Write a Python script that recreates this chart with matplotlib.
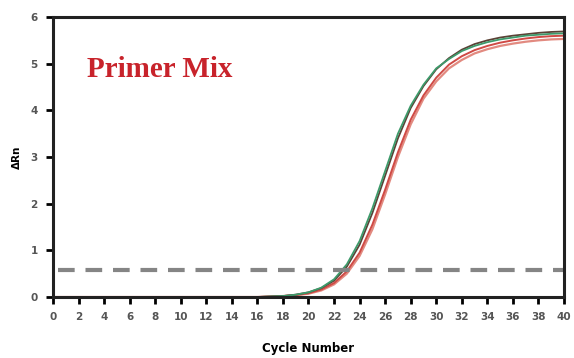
import matplotlib.pyplot as plt

# ciclos e curvas
ciclos = list(range(0, 41))

verde = [0, 0, 0, 0, 0, 0, 0, 0, 0, 0, 0, 0, 0, 0, 0, 0,
         0.0, 0.01, 0.02, 0.05, 0.1, 0.2, 0.38, 0.7, 1.2, 1.9,
         2.7, 3.5, 4.1, 4.55, 4.9, 5.1, 5.27, 5.38, 5.46, 5.52,
         5.56, 5.6, 5.62, 5.64, 5.65]

escuro = [0, 0, 0, 0, 0, 0, 0, 0, 0, 0, 0, 0, 0, 0, 0, 0,
          0.0, 0.01, 0.02, 0.05, 0.1, 0.19, 0.35, 0.65, 1.12, 1.8,
          2.6, 3.4, 4.05, 4.52, 4.88, 5.12, 5.3, 5.42, 5.5, 5.56,
          5.6, 5.63, 5.66, 5.68, 5.69]

vermelho1 = [0, 0, 0, 0, 0, 0, 0, 0, 0, 0, 0, 0, 0, 0, 0, 0,
             0.0, 0.01, 0.02, 0.04, 0.08, 0.16, 0.3, 0.55, 0.95, 1.55,
             2.3, 3.1, 3.8, 4.32, 4.7, 4.98, 5.16, 5.29, 5.38, 5.45,
             5.5, 5.54, 5.57, 5.59, 5.6]

vermelho2 = [0, 0, 0, 0, 0, 0, 0, 0, 0, 0, 0, 0, 0, 0, 0, 0,
             0.0, 0.01, 0.02, 0.04, 0.07, 0.14, 0.27, 0.5, 0.88, 1.45,
             2.2, 3.0, 3.7, 4.25, 4.62, 4.9, 5.08, 5.22, 5.31, 5.38,
             5.43, 5.47, 5.5, 5.52, 5.53]

limiar = 0.57

xticks = list(range(0, 41, 2))
yticks = [0, 1, 2, 3, 4, 5, 6]

fig = plt.figure(figsize=(5.74, 3.58), dpi=100)
ax = fig.add_axes([0.0923, 0.1704, 0.8903, 0.7821])

ax.plot(ciclos, vermelho2, color="#e28a80", lw=1.6)
ax.plot(ciclos, vermelho1, color="#cf4a45", lw=1.4)
ax.plot(ciclos, escuro, color="#5b4236", lw=1.3)
ax.plot(ciclos, verde, color="#3d9a6b", lw=1.3)

ax.axhline(limiar, xmin=0.01, xmax=1, color="#858585", lw=3,
           dashes=(4, 2.6))

ax.set_xlim(0, 40)
ax.set_ylim(0, 6)
ax.set_xticks(xticks)
ax.set_yticks(yticks)
ax.tick_params(direction="out", length=5, width=2, labelsize=7.5,
               labelcolor="#555555", pad=6)
for s in ax.spines.values():
    s.set_linewidth(2.2)
    s.set_color("#222222")
for lbl in ax.get_xticklabels() + ax.get_yticklabels():
    lbl.set_fontweight("bold")

ax.set_xlabel("Cycle Number", fontsize=8.5, fontweight="bold", labelpad=14)
ax.set_ylabel("ΔRn", fontsize=7.5, fontweight="bold", labelpad=6)

ax.text(2.7, 4.88, "Primer Mix", color="#c8232b", fontsize=21,
        fontweight="bold", family="Liberation Serif", va="center")

fig.savefig("out.png", dpi=100)
